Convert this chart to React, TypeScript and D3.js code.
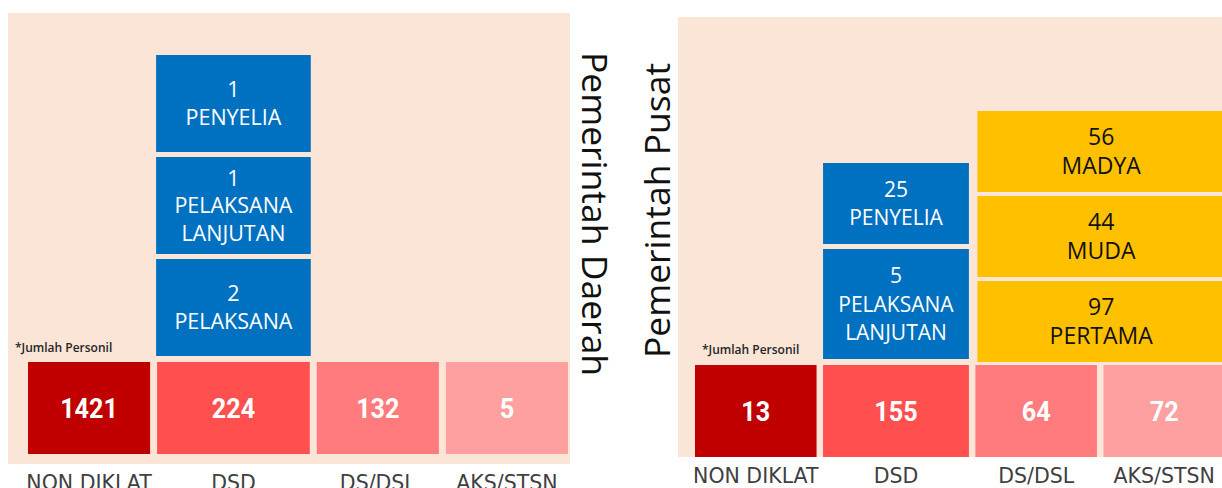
import React from "react";
import * as d3 from "d3";

const categories = ["NON DIKLAT", "DSD", "DS/DSL", "AKS/STSN"];
const daerahValues = [1421, 224, 132, 5];
const pusatValues = [13, 155, 64, 72];

const daerahDsdLevels = ["PELAKSANA", "PELAKSANA LANJUTAN", "PENYELIA"];
const daerahDsdValues = [2, 1, 1];

const pusatDsdLevels = ["PELAKSANA LANJUTAN", "PENYELIA"];
const pusatDsdValues = [5, 25];

const pusatDsLevels = ["PERTAMA", "MUDA", "MADYA"];
const pusatDsValues = [97, 44, 56];

const panelTitles = ["Pemerintah Daerah", "Pemerintah Pusat"];
const noteText = "*Jumlah Personil";

const W = 1222;
const H = 488;

const boxColors = ["#C00000", "#FF4F4F", "#FF7B7E", "#FFA0A0"];
const BG = "#FBE5D6";
const BLUE = "#0070C0";
const YELLOW = "#FFC000";

type Col = { x: number; w: number; c: number };

function columns(x0: number, x1: number, gap: number, weights: number[]): Col[] {
  const total = d3.sum(weights);
  const unit = (x1 - x0 - gap * (weights.length - 1)) / total;
  const starts = d3.cumsum([0, ...weights.slice(0, -1)]);
  const sx = d3.scaleLinear().domain([0, total]).range([x0, x0 + unit * total]);
  return weights.map((w, i) => {
    const x = sx(starts[i]) + gap * i;
    const ww = unit * w;
    return { x, w: ww, c: x + ww / 2 };
  });
}

function Stack({
  levels,
  values,
  x,
  w,
  bottom,
  gap,
  heightFor,
  lineH,
  fill,
  textFill,
  fontSize,
  splitWords,
}: {
  levels: string[];
  values: number[];
  x: number;
  w: number;
  bottom: number;
  gap: number;
  heightFor: (lines: number) => number;
  lineH: number;
  fill: string;
  textFill: string;
  fontSize: number;
  splitWords: boolean;
}) {
  let y = bottom;
  const items = levels.map((lv, i) => {
    const lines = [String(values[i]), ...(splitWords ? lv.split(" ") : [lv])];
    const h = heightFor(lines.length);
    const top = y - h;
    y = top - gap;
    const cy = top + h / 2;
    const firstY = cy - ((lines.length - 1) * lineH) / 2;
    return (
      <g key={lv}>
        <rect x={x} y={top} width={w} height={h} fill={fill} />
        {lines.map((t, j) => (
          <text
            key={j}
            x={x + w / 2}
            y={firstY + j * lineH + fontSize * 0.36}
            textAnchor="middle"
            fill={textFill}
            fontFamily="'Open Sans', sans-serif"
            fontSize={fontSize}
          >
            {t}
          </text>
        ))}
      </g>
    );
  });
  return <g>{items}</g>;
}

function ValueRow({ cols, values, top, bottom }: { cols: Col[]; values: number[]; top: number; bottom: number }) {
  const cy = (top + bottom) / 2;
  return (
    <g>
      {cols.map((c, i) => (
        <g key={categories[i]}>
          <rect x={c.x} y={top} width={c.w} height={bottom - top} fill={boxColors[i]} />
          <text
            transform={`translate(${c.c},${cy + 10}) scale(0.9,1)`}
            textAnchor="middle"
            fill="#ffffff"
            fontFamily="Roboto, sans-serif"
            fontWeight={700}
            fontSize={28}
          >
            {values[i]}
          </text>
        </g>
      ))}
    </g>
  );
}

function Labels({ cols, baseline }: { cols: Col[]; baseline: number }) {
  return (
    <g>
      {cols.map((c, i) => (
        <text
          key={categories[i]}
          x={c.c}
          y={baseline}
          textAnchor="middle"
          fill="#404040"
          fontFamily="'DejaVu Sans', sans-serif"
          fontSize={20.5}
        >
          {categories[i]}
        </text>
      ))}
    </g>
  );
}

export default function App() {
  const leftCols = columns(28, 568, 7, [1, 1.25, 1, 1]);
  const rightCols = columns(695, 1225, 6.5, [1, 1.2, 1, 1]);

  return (
    <svg
      width={W}
      height={H}
      viewBox={`0 0 ${W} ${H}`}
      style={{ position: "absolute", left: 0, top: 0, background: "#ffffff" }}
    >
      {/* Left panel */}
      <rect x={8} y={13} width={562} height={451} fill={BG} />
      <ValueRow cols={leftCols} values={daerahValues} top={362} bottom={454} />
      <Stack
        levels={daerahDsdLevels}
        values={daerahDsdValues}
        x={leftCols[1].x - 1}
        w={leftCols[1].w + 2}
        bottom={356}
        gap={5}
        heightFor={() => 97}
        lineH={27.5}
        fill={BLUE}
        textFill="#ffffff"
        fontSize={21.5}
        splitWords={true}
      />
      <text x={15} y={352} fill="#262626" fontFamily="'Open Sans', sans-serif" fontWeight={600} fontSize={12}>
        {noteText}
      </text>
      <Labels cols={leftCols} baseline={490} />
      <text
        transform="translate(582,52) rotate(90)"
        fill="#111111"
        fontFamily="'Open Sans', sans-serif"
        fontSize={35.5}
      >
        {panelTitles[0]}
      </text>

      {/* Right panel */}
      <rect x={678} y={17} width={W - 678} height={440} fill={BG} />
      <ValueRow cols={rightCols} values={pusatValues} top={365} bottom={457} />
      <Stack
        levels={pusatDsdLevels}
        values={pusatDsdValues}
        x={rightCols[1].x}
        w={rightCols[1].w}
        bottom={359}
        gap={5}
        heightFor={(n) => 23 + 29 * n}
        lineH={28.5}
        fill={BLUE}
        textFill="#ffffff"
        fontSize={21}
        splitWords={true}
      />
      <Stack
        levels={pusatDsLevels}
        values={pusatDsValues}
        x={rightCols[2].x + 2}
        w={rightCols[3].x + rightCols[3].w - rightCols[2].x - 2}
        bottom={362}
        gap={4}
        heightFor={() => 81}
        lineH={29}
        fill={YELLOW}
        textFill="#111111"
        fontSize={23}
        splitWords={true}
      />
      <text x={702} y={354} fill="#262626" fontFamily="'Open Sans', sans-serif" fontWeight={600} fontSize={12}>
        {noteText}
      </text>
      <Labels cols={rightCols} baseline={483} />
      <text
        transform="translate(670,358) rotate(-90)"
        fill="#111111"
        fontFamily="'Open Sans', sans-serif"
        fontSize={35.5}
      >
        {panelTitles[1]}
      </text>
    </svg>
  );
}
